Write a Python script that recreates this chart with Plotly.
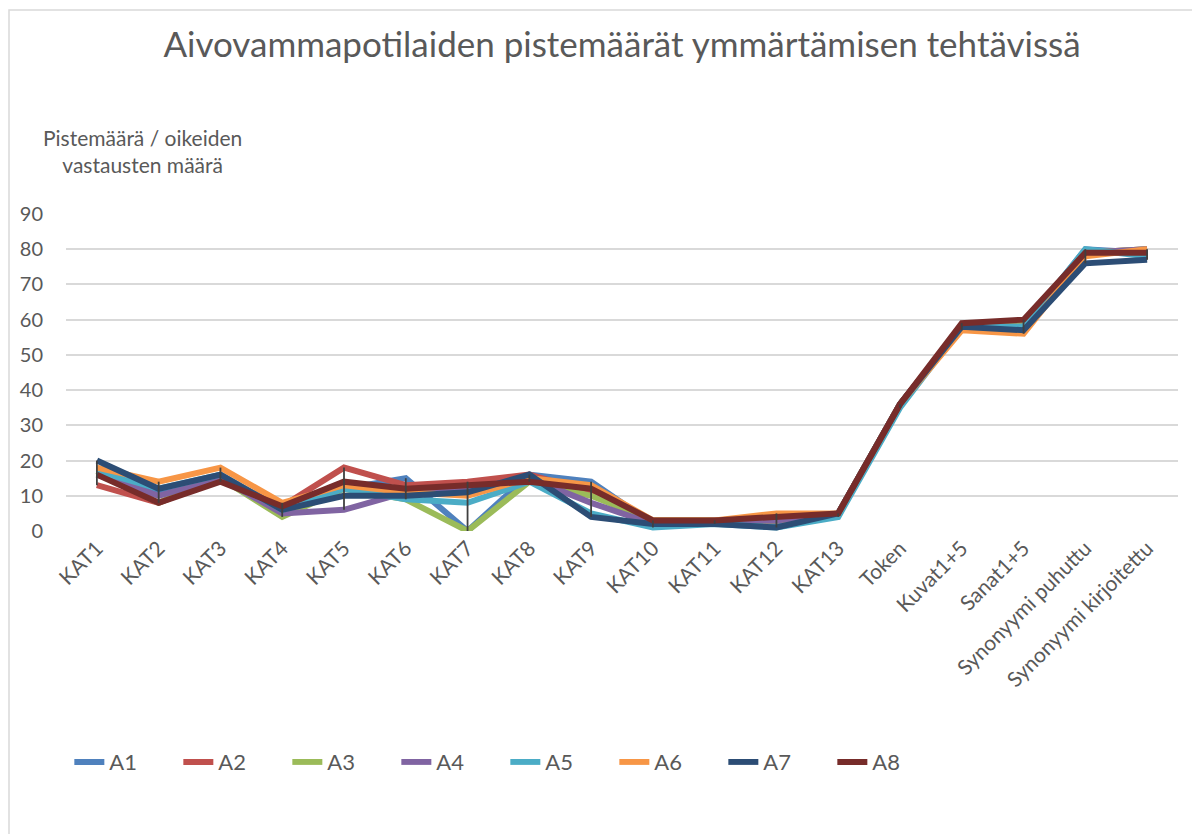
import plotly.graph_objects as go

categories = ["KAT1", "KAT2", "KAT3", "KAT4", "KAT5", "KAT6", "KAT7", "KAT8", "KAT9",
              "KAT10", "KAT11", "KAT12", "KAT13", "Token", "Kuvat1+5", "Sanat1+5",
              "Synonyymi puhuttu", "Synonyymi kirjoitettu"]

A1 = [17, 11, 16, 6, 12, 15, 0, 16, 14, 2, 2, 2, 5, 36, 58, 58, 80, 79]
A2 = [13, 8, 15, 7, 18, 13, 14, 16, 11, 3, 3, 3, 5, 36, 58, 59, 79, 80]
A3 = [17, 8, 15, 4, 12, 9, 0, 14, 10, 3, 3, 3, 5, 36, 58, 59, 79, 80]
A4 = [16, 10, 15, 5, 6, 11, 12, 15, 8, 2, 3, 3, 5, 36, 58, 58, 79, 80]
A5 = [17, 12, 16, 6, 12, 9, 8, 14, 5, 1, 2, 1, 4, 35, 58, 58, 80, 78]
A6 = [18, 14, 18, 8, 13, 11, 10, 15, 13, 3, 3, 5, 5, 36, 57, 56, 78, 80]
A7 = [20, 12, 16, 6, 10, 10, 11, 16, 4, 2, 2, 1, 5, 36, 58, 57, 76, 77]
A8 = [16, 8, 14, 7, 14, 12, 13, 14, 12, 3, 3, 4, 5, 36, 59, 60, 79, 79]

series_names = ["A1", "A2", "A3", "A4", "A5", "A6", "A7", "A8"]
series_values = [A1, A2, A3, A4, A5, A6, A7, A8]
colors = ["#4F81BD", "#C0504D", "#9BBB59", "#8064A2", "#4BACC6", "#F79646", "#2C4D75", "#772C2A"]

FONT = "Lato, 'Open Sans', sans-serif"
TXT = "#595959"

W, H = 1192, 826
PW, PH = 1112, 317

fig = go.Figure()

for name, vals, col in zip(series_names, series_values, colors):
    fig.add_trace(go.Scatter(x=categories, y=vals, mode="lines", name=name,
                             line=dict(color=col, width=6), hoverinfo="x+y+name"))

# high-low lines
hx, hy = [], []
for i, c in enumerate(categories):
    col_vals = [s[i] for s in series_values]
    hx += [c, c, None]
    hy += [min(col_vals), max(col_vals), None]
fig.add_trace(go.Scatter(x=hx, y=hy, mode="lines", line=dict(color="#404040", width=1.8),
                         showlegend=False, hoverinfo="skip"))

fig.update_layout(
    width=W, height=H,
    paper_bgcolor="white", plot_bgcolor="white",
    margin=dict(l=58, r=22, t=206, b=303),
    font=dict(family=FONT, color=TXT, size=20),
    title=dict(text="Aivovammapotilaiden pistemäärät ymmärtämisen tehtävissä",
               xref="paper", x=0.5, xanchor="center", y=1 - 37 / H, yanchor="middle",
               font=dict(size=35, color=TXT, family=FONT)),
    showlegend=True,
    legend=dict(orientation="h", x=0.003, xanchor="left", y=-0.729, yanchor="middle",
                font=dict(size=22, color=TXT), entrywidth=64, entrywidthmode="pixels",
                itemwidth=30, bgcolor="rgba(0,0,0,0)", traceorder="normal"),
    xaxis=dict(type="category", range=[-0.5, len(categories) - 0.5], showgrid=False,
               showline=False, zeroline=False, ticks="", tickangle=-45,
               tickfont=dict(size=21, color=TXT)),
    yaxis=dict(range=[0, 90], dtick=10, showgrid=True, gridcolor="#D9D9D9", gridwidth=1.5,
               zeroline=False, showline=False, ticks="", tickfont=dict(size=20, color=TXT),
               ticklabelstandoff=22),
    annotations=[dict(text="Pistemäärä / oikeiden<br>vastausten määrä", xref="paper", yref="paper",
                      x=(142 - 66) / PW, y=(531 - 151) / PH, xanchor="center", yanchor="middle",
                      showarrow=False, align="center", font=dict(size=21, color=TXT))],
    shapes=[dict(type="rect", xref="paper", yref="paper",
                 x0=(9 - 66) / PW, x1=(1215 - 66) / PW,
                 y0=(531 - 850) / PH, y1=(531 - 10) / PH,
                 line=dict(color="#D9D9D9", width=1.5), fillcolor="rgba(0,0,0,0)", layer="below")],
)

fig.write_html("out.html")
